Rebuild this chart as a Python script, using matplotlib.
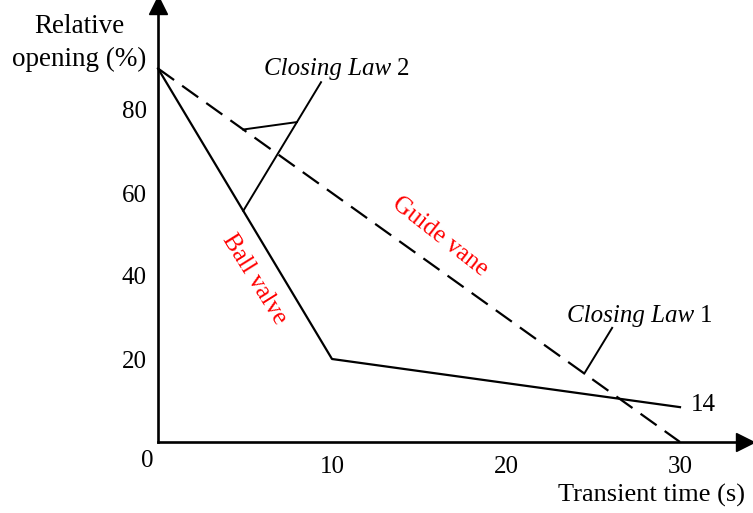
import numpy as np
import matplotlib
matplotlib.use("Agg")
import matplotlib.pyplot as plt

plt.rcParams['font.family'] = ['Liberation Serif', 'DejaVu Serif']
plt.rcParams['font.size'] = 18

# Closing laws (time in s, relative opening in %)
ball_t = [0, 10, 30]
ball_y = [90, 20, 8.4]
vane_t = [0, 30]
vane_y = [90, 0]

xticks = [10, 20, 30]
yticks = [20, 40, 60, 80]

W, H = 753, 513
fig = plt.figure(figsize=(W / 100, H / 100), dpi=100)

# axes frame in pixel terms: origin (158, 442), x tip 745, y tip 5
x0, y0, x1, y1 = 158, 442, 745, 5
ax = fig.add_axes([x0 / W, (H - y0) / H, (x1 - x0) / W, (y0 - y1) / H])
px_per_s = 17.4
px_per_pct = 4.15
ax.set_xlim(0, (x1 - x0) / px_per_s)
ax.set_ylim(0, (y0 - y1) / px_per_pct)

for s in ['top', 'right']:
    ax.spines[s].set_visible(False)
for s in ['left', 'bottom']:
    ax.spines[s].set_linewidth(1.9)
ax.patch.set_alpha(0)

ax.set_xticks(xticks)
ax.set_yticks(yticks)
ax.tick_params(axis='both', length=0)
ax.tick_params(axis='x', pad=10)
ax.tick_params(axis='y', pad=8)

# arrowheads on the axes
ax.plot(1, 0, marker='>', color='black', markersize=13, transform=ax.transAxes, clip_on=False)
ax.plot(0, 1, marker='^', color='black', markersize=13, transform=ax.transAxes, clip_on=False)

ax.plot(ball_t, ball_y, color='black', lw=1.6, clip_on=False)
ax.plot(vane_t, vane_y, color='black', lw=1.6, linestyle=(0, (8.9, 4.45)),
        dash_capstyle='butt', clip_on=False)

ax.text(-0.6, -4.5, "0", ha='center', va='center')

# axis titles
fig.text(79 / W, 1 - 43 / H, "Relative\nopening (%)", ha='center', va='center',
         linespacing=1.45, fontsize=19.5)
fig.text(745 / W, 1 - 495 / H, "Transient time (s)", ha='right', va='center', fontsize=19)

# curve names
ax.text(5.5, (442 - 279) / px_per_pct, "Ball valve", color='red', rotation=-58,
        ha='center', va='center', rotation_mode='anchor')
ax.text(16.2, (442 - 237) / px_per_pct, "Guide vane", color='red', rotation=-38,
        ha='center', va='center', rotation_mode='anchor')

# final value label
ax.text(ball_t[-1] + 0.6, ball_y[-1] + 0.5, "14", ha='left', va='center')

# Closing Law 2 leaders
t2 = 4.9
b2 = np.interp(t2, ball_t, ball_y)
v2 = np.interp(t2, vane_t, vane_y)
tip2 = (9.37, 86.7)
ax.plot([t2, tip2[0]], [b2, tip2[1]], color='black', lw=1.4, clip_on=False)
j = 0.69  # junction fraction along the main leader
jx = t2 + j * (tip2[0] - t2)
jy = b2 + j * (tip2[1] - b2)
ax.plot([t2, jx], [v2, jy], color='black', lw=1.4, clip_on=False)
lab2 = ax.text(6.1, 88.4, "Closing Law", style='italic', ha='left', va='baseline')
ax.annotate("2", xy=(1, 0), xycoords=lab2, xytext=(4, 0), textcoords='offset points',
            ha='left', va='bottom')

# Closing Law 1 leader
t1 = 24.5
v1 = np.interp(t1, vane_t, vane_y)
ax.plot([t1, 26.1], [v1, 27.5], color='black', lw=1.4, clip_on=False)
lab1 = ax.text(23.5, 28.9, "Closing Law", style='italic', ha='left', va='baseline')
ax.annotate("1", xy=(1, 0), xycoords=lab1, xytext=(4, 0), textcoords='offset points',
            ha='left', va='bottom')

fig.savefig("out.png", dpi=100)
